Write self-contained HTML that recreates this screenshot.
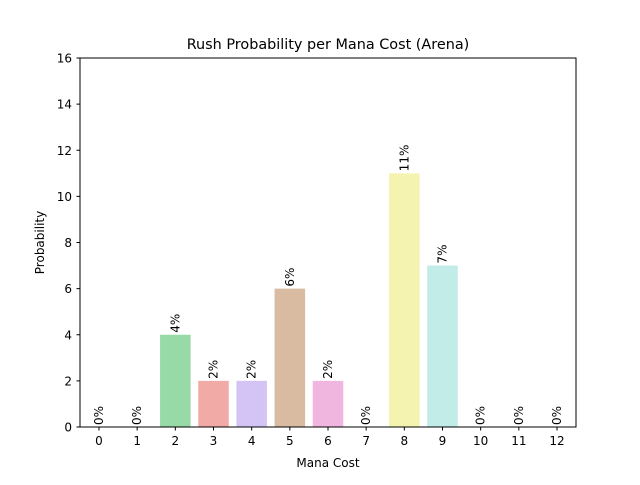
<!DOCTYPE html>
<html><head><meta charset="utf-8"><style>body{margin:0;background:#fff}svg text{font-family:"DejaVu Sans","Liberation Sans",sans-serif}</style></head>
<body>
<svg id="c" width="640" height="480">
<rect x="0" y="0" width="640" height="480" fill="#fff"/>
<text x="328" y="49" font-size="14.4" text-anchor="middle">Rush Probability per Mana Cost (Arena)</text>
<g id="bars"></g>
<rect x="80" y="58" width="496" height="369" fill="none" stroke="#000" stroke-width="1"/>
<g id="axes"></g>
<text x="328" y="467" font-size="12" text-anchor="middle">Mana Cost</text>
<text transform="translate(44,242.5) rotate(-90)" font-size="12" text-anchor="middle">Probability</text>
</svg>
<script>
const categories=[0,1,2,3,4,5,6,7,8,9,10,11,12];
const values=[0,0,4,2,2,6,2,0,11,7,0,0,0];
const valueLabels=["0%","0%","4%","2%","2%","6%","2%","0%","11%","7%","0%","0%","0%"];
const yTicks=[0,2,4,6,8,10,12,14,16];
const colors=["#a1c9f4","#ffb482","#98d9a8","#f2aaa6","#d4c4f5","#d8bba0","#f0b6e0","#cfcfcf","#f4f4b0","#c2ece8","#a1c9f4","#ffb482","#98d9a8"];
const NS="http://www.w3.org/2000/svg";
const x=i=>99+i*(557-99)/12;
const y=v=>427-v*(369/16);
const bw=0.8*(557-99)/12;
const bars=document.getElementById('bars'),axes=document.getElementById('axes');
function mk(t,a,p){const e=document.createElementNS(NS,t);for(const k in a)e.setAttribute(k,a[k]);p.appendChild(e);return e;}
categories.forEach((c,i)=>{
 const r=mk('rect',{x:x(i)-bw/2,y:y(values[i]),width:bw,height:y(0)-y(values[i]),fill:colors[i]},bars);
 
 
 const t=mk('text',{transform:`translate(${x(i)+4},${y(values[i])-2}) rotate(-90)`,'font-size':12},bars);
 t.textContent=valueLabels[i];
 
 
 const tk=mk('line',{x1:x(i),x2:x(i),y1:427,y2:430.5,stroke:'#000'},axes);
 
 
 const tl=mk('text',{x:x(i),y:445,'font-size':12,'text-anchor':'middle'},axes);
 tl.textContent=c;
 
 
});
yTicks.forEach(v=>{
 const tk=mk('line',{x1:76.5,x2:80,y1:y(v),y2:y(v),stroke:'#000'},axes);
 
 
 const tl=mk('text',{x:72,y:y(v)+4.5,'font-size':12,'text-anchor':'end'},axes);
 tl.textContent=v;
 
 
});
</script>
</body></html>
